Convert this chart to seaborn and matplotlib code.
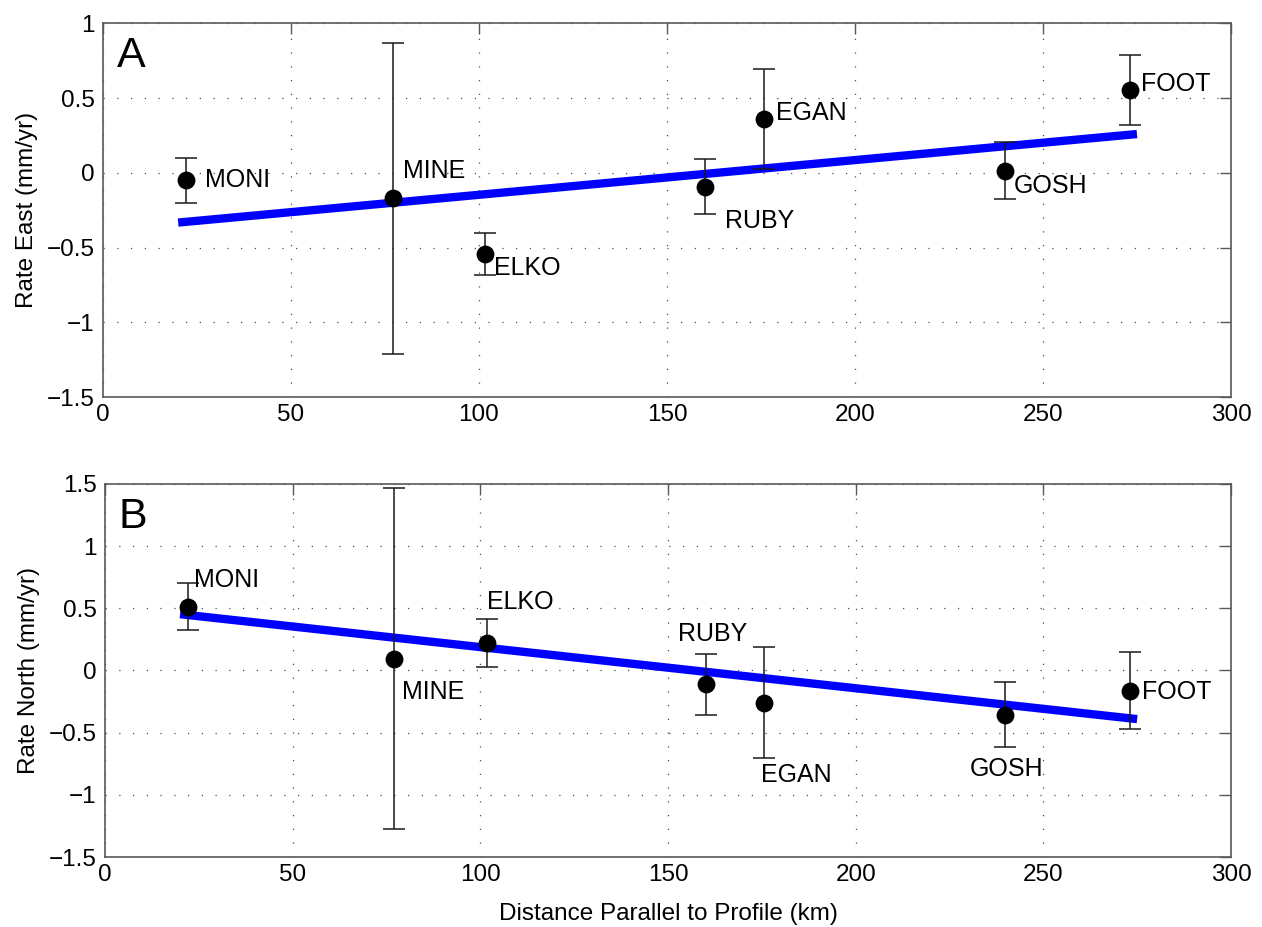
import numpy as np
import pandas as pd
import matplotlib
matplotlib.use("Agg")
import matplotlib.pyplot as plt
import seaborn as sns

# Datos
stations = ['MONI', 'MINE', 'ELKO', 'RUBY', 'EGAN', 'GOSH', 'FOOT']
distance = [22.2, 77.1, 101.7, 160.1, 175.7, 239.8, 273.1]

east_rate = [-0.05, -0.17, -0.545, -0.094, 0.362, 0.013, 0.554]
east_err = [0.15, 1.04, 0.14, 0.185, 0.335, 0.19, 0.235]

north_rate = [0.514, 0.096, 0.222, -0.11, -0.26, -0.356, -0.163]
north_err = [0.19, 1.37, 0.19, 0.245, 0.445, 0.26, 0.31]

fit_x = [20, 275]
east_fit = [-0.333, 0.259]
north_fit = [0.453, -0.391]

sns.set_style("white")
plt.rcParams['font.family'] = ['Liberation Sans', 'DejaVu Sans']
plt.rcParams['axes.unicode_minus'] = True
plt.rcParams['text.color'] = 'black'
plt.rcParams['axes.labelcolor'] = 'black'
plt.rcParams['xtick.labelcolor'] = 'black'
plt.rcParams['ytick.labelcolor'] = 'black'

df = pd.DataFrame({'station': stations, 'dist': distance,
                   'east': east_rate, 'east_err': east_err,
                   'north': north_rate, 'north_err': north_err})
fit = pd.DataFrame({'dist': fit_x, 'east': east_fit, 'north': north_fit})

# desplazamientos de las etiquetas (km, mm/yr)
east_off = [(5, 0), (2.7, 0.18), (2.4, -0.09), (5.4, -0.23), (3.2, 0.04), (2.3, -0.10), (3, 0.04)]
north_off = [(1.6, 0.21), (2.1, -0.27), (0.2, 0.33), (-7.4, 0.40), (-0.9, -0.58), (-9.4, -0.44), (3.3, -0.006)]

fig = plt.figure(figsize=(12.62, 9.27), dpi=100)
ax1 = fig.add_axes([0.0816, 0.5717, 0.8938, 0.4032])
ax2 = fig.add_axes([0.0832, 0.0755, 0.8922, 0.4024])


def panel(ax, col, err, offs, ylim, yticks, ylabel, letter):
    sns.lineplot(data=fit, x='dist', y=col, ax=ax, color=(0, 0, 1), linewidth=6,
                 solid_capstyle='butt', zorder=2)
    ax.errorbar(df['dist'], df[col], yerr=df[err], fmt='none', ecolor='0.1',
                elinewidth=1.1, capsize=8, capthick=1.1, zorder=3)
    sns.scatterplot(data=df, x='dist', y=col, ax=ax, color='black', s=165,
                    edgecolor='black', linewidth=0, zorder=4)
    for st, x, y, (dx, dy) in zip(df['station'], df['dist'], df[col], offs):
        ax.text(x + dx, y + dy, st, fontsize=18, ha='left', va='center', zorder=5)
    ax.set_xlim(0, 300)
    ax.set_ylim(*ylim)
    ax.set_xticks(np.arange(0, 301, 50))
    ax.set_yticks(yticks)
    ax.set_yticklabels([f"{t:g}".replace('-', '\u2212') for t in yticks])
    ax.grid(True, color='0.3', linestyle=(0, (1, 10)), linewidth=0.9)
    ax.tick_params(direction='in', length=8, width=1, color='0.35', labelsize=17.5,
                   top=True, right=True, pad=6)
    ax.tick_params(axis='x', pad=5)
    for s in ax.spines.values():
        s.set_color('0.35')
        s.set_linewidth(1.2)
    ax.set_ylabel(ylabel, fontsize=17.5, labelpad=6)
    ax.text(0.012, 0.965, letter, transform=ax.transAxes, fontsize=31,
            ha='left', va='top')


panel(ax1, 'east', 'east_err', east_off, (-1.5, 1), [-1.5, -1, -0.5, 0, 0.5, 1],
      'Rate East (mm/yr)', 'A')
ax1.set_xlabel('')
panel(ax2, 'north', 'north_err', north_off, (-1.5, 1.5),
      [-1.5, -1, -0.5, 0, 0.5, 1, 1.5], 'Rate North (mm/yr)', 'B')
ax2.set_xlabel('Distance Parallel to Profile (km)', fontsize=17.5, labelpad=12)

plt.savefig('out.png', dpi=100)
